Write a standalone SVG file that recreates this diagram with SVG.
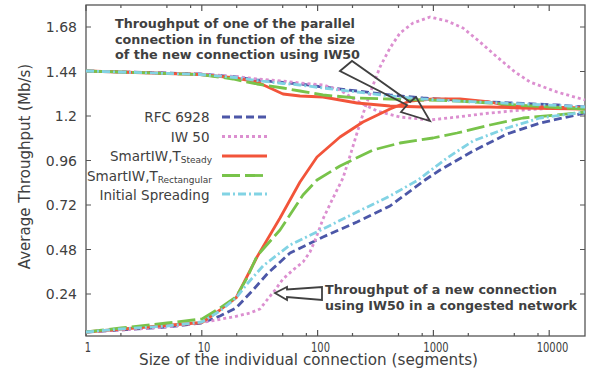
<svg xmlns="http://www.w3.org/2000/svg" width="596" height="374" viewBox="0 0 596 374">
<style>
text{font-family:"DejaVu Sans","Liberation Sans",sans-serif;fill:#404040}
.yt{font-size:14px;text-anchor:end}
.xt{font-size:13.5px;text-anchor:middle}
.lg{font-size:13.5px}
.sub{font-size:9px}
.ann{font-size:13px;font-weight:bold}
.ax{fill:none;stroke:#555;stroke-width:1.3}
.tk{stroke:#555;stroke-width:1.2}
.c{fill:none;stroke-width:2.8;stroke-linejoin:round}
.rfc{stroke:#4c57a8;stroke-dasharray:8 4}
.iw{stroke:#dc8fd0;stroke-dasharray:3 3}
.st{stroke:#f2543a}
.re{stroke:#78c34a;stroke-dasharray:18 5}
.is{stroke:#82d3e4;stroke-dasharray:8 3 2 3}
.arr{fill:none;stroke:#404040;stroke-width:1.8;stroke-linejoin:miter}
</style>
<g id="axes">
<rect class="ax" x="86" y="5" width="499" height="331"/>
<g class="tk">
<path d="M86 27h5M86 71.5h5M86 116h5M86 160.5h5M86 205h5M86 249.5h5M86 294h5"/>
<path d="M585 27h-5M585 71.5h-5M585 116h-5M585 160.5h-5M585 205h-5M585 249.5h-5M585 294h-5"/>
<path d="M86 336v-6M201.8 336v-6M317.6 336v-6M433.4 336v-6M549.2 336v-6M86 5v6M201.8 5v6M317.6 5v6M433.4 5v6M549.2 5v6"/>
<path d="M120.9 336v-3M166.9 336v-3M190.6 336v-3M236.7 336v-3M282.7 336v-3M306.4 336v-3M352.5 336v-3M398.5 336v-3M422.2 336v-3M468.3 336v-3M514.3 336v-3M538 336v-3"/>
<path d="M120.9 5v3M166.9 5v3M190.6 5v3M236.7 5v3M282.7 5v3M306.4 5v3M352.5 5v3M398.5 5v3M422.2 5v3M468.3 5v3M514.3 5v3M538 5v3"/>
</g>
<text class="yt" x="77" y="32">1.68</text>
<text class="yt" x="77" y="76.5">1.44</text>
<text class="yt" x="77" y="121">1.2</text>
<text class="yt" x="77" y="165.5">0.96</text>
<text class="yt" x="77" y="210">0.72</text>
<text class="yt" x="77" y="254.5">0.48</text>
<text class="yt" x="77" y="299">0.24</text>
<text class="xt" x="88" y="352" textLength="6.3" lengthAdjust="spacingAndGlyphs">1</text>
<text class="xt" x="204" y="352" textLength="12.7" lengthAdjust="spacingAndGlyphs">10</text>
<text class="xt" x="320.5" y="352" textLength="19" lengthAdjust="spacingAndGlyphs">100</text>
<text class="xt" x="436" y="352" textLength="25.4" lengthAdjust="spacingAndGlyphs">1000</text>
<text class="xt" x="552.5" y="352" textLength="31.7" lengthAdjust="spacingAndGlyphs">10000</text>
<text x="139" y="365" font-size="15" textLength="339" lengthAdjust="spacingAndGlyphs">Size of the individual connection (segments)</text>
<text transform="translate(30,166.5) rotate(-90)" font-size="15" text-anchor="middle">Average Throughput (Mb/s)</text>
</g>
<g id="connectors">
<polyline class="c rfc" points="86,71 150,72.5 200,74 236,77 257,80 283,82.5 300,84 323,87 357,91 390,95 423,98 457,100 490,102 523,103.5 557,105 585,107"/>
<polyline class="c rfc" points="86,332 121,330 167,327 202,323 220,316 236,308 253,290 268,273 290,253 323,237 357,222 390,206 425,180 440,170 473,151 507,134 540,123 585,113"/>
<polyline class="c iw" points="86,71 200,74 236,76.5 257,79 283,81 300,83 323,85 340,90 357,101 377,111 400,117 430,120 457,117 490,113 523,110 557,108 585,107"/>
<polyline class="c iw" points="86,332 121,330 167,327 202,322.5 233,317 250,313 260,309 267,300 275,290 283,279 293,270 303,262 310,252 316,238 323,219 333,198 343,178 350,156 357,133 365,108 372,88 380,67 390,48 400,33 413,23 430,17 447,21 463,28 480,42 497,57 515,72 530,82 557,92 585,100"/>
<polyline class="c st" points="86,71 200,74.5 236,78 257,82 270,88 283,94 300,96 323,97 357,103 390,106 423,107 457,107 490,107 523,108 585,109"/>
<polyline class="c st" points="86,332 202,322.5 220,310 236,298 257,257 280,218 300,182 317,157 340,137 363,122 390,109 410,101 433,99 460,99 490,102 507,106 540,107 585,108"/>
<polyline class="c re" points="86,71 200,74.5 233,79 257,84 283,88 300,91 323,95 357,98 390,99 423,100 457,101 490,103 523,105.5 557,107.5 585,109"/>
<polyline class="c re" points="86,332 121,328 167,323 202,319 220,308 236,297 247,278 257,256 280,230 303,195 317,180 340,166 373,150 400,143 433,138 457,133 490,125 523,118 557,115 585,112"/>
<polyline class="c is" points="86,71 200,74.5 236,77.5 257,80.5 283,83.5 300,85 323,88 357,92 390,96 423,99 457,101 490,102.5 523,104 557,105.5 585,107"/>
<polyline class="c is" points="86,332 121,329 167,326 202,322 220,311 236,298 247,284 263,266 290,245 323,229 357,212 390,196 418,180 447,158 473,141 507,128 540,118 585,112"/>
<polygon class="arr" points="340,71 352,61 410,102 416,97 430,121 401,112 407,105"/>
<polygon class="arr" points="275,293 287,287 287,289.5 322,287 322,300 287,297 287,300"/>
</g>
<g id="legend">
<text class="lg" x="209.5" y="122" text-anchor="end">RFC 6928</text>
<line class="c rfc" x1="222" y1="117" x2="267" y2="117"/>
<text class="lg" x="209.5" y="141.5" text-anchor="end">IW 50</text>
<line class="c iw" x1="222" y1="136.5" x2="267" y2="136.5"/>
<text class="lg" x="110" y="160.5">SmartIW,T<tspan class="sub" dy="2.5">Steady</tspan></text>
<line class="c st" x1="222" y1="156" x2="267" y2="156"/>
<text class="lg" x="87" y="180.5">SmartIW,T<tspan class="sub" dy="2.5">Rectangular</tspan></text>
<line class="c re" x1="222" y1="175.5" x2="267" y2="175.5"/>
<text class="lg" x="209.5" y="199.5" text-anchor="end">Initial Spreading</text>
<line class="c is" x1="222" y1="194" x2="267" y2="194"/>
</g>
<g id="annotation-top">
<text class="ann" x="115" y="28" textLength="240" lengthAdjust="spacingAndGlyphs">Throughput of one of the parallel</text>
<text class="ann" x="115" y="43.5" textLength="240" lengthAdjust="spacingAndGlyphs">connection in function of the size</text>
<text class="ann" x="115" y="59" textLength="245" lengthAdjust="spacingAndGlyphs">of the new connection using IW50</text>
</g>
<g id="annotation-bottom">
<text class="ann" x="325" y="294" textLength="232" lengthAdjust="spacingAndGlyphs">Throughput of a new connection</text>
<text class="ann" x="325" y="310" textLength="252" lengthAdjust="spacingAndGlyphs">using IW50 in a congested network</text>
</g>
</svg>
